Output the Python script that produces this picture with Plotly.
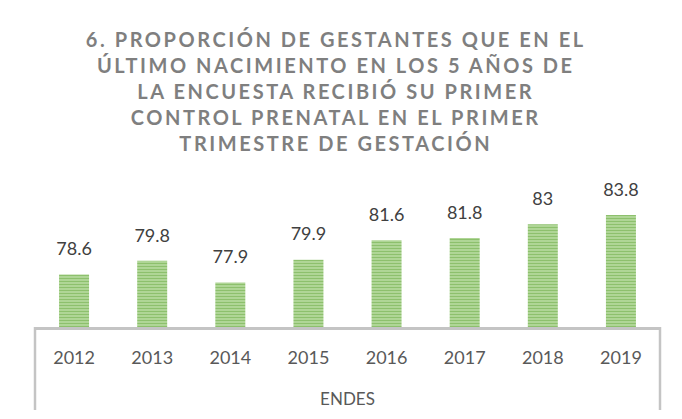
import plotly.graph_objects as go

years = ["2012", "2013", "2014", "2015", "2016", "2017", "2018", "2019"]
values = [78.6, 79.8, 77.9, 79.9, 81.6, 81.8, 83.0, 83.8]
labels = ["78.6", "79.8", "77.9", "79.9", "81.6", "81.8", "83", "83.8"]
title_lines = [
    "6. PROPORCIÓN DE GESTANTES QUE EN EL",
    "ÚLTIMO NACIMIENTO EN LOS 5 AÑOS DE",
    "LA ENCUESTA RECIBIÓ SU PRIMER",
    "CONTROL PRENATAL EN EL PRIMER",
    "TRIMESTRE DE GESTACIÓN",
]
axis_title = "ENDES"

FONT = "Lato"

fig = go.Figure()
fig.add_trace(go.Bar(
    x=years, y=values,
    marker=dict(
        color="#c3e2ad",
        line=dict(width=0),
        pattern=dict(shape="-", fgcolor="#539c2a", bgcolor="#c6e4b0",
                     size=3, solidity=0.6, fillmode="overlay"),
    ),
    hoverinfo="skip",
))
fig.add_trace(go.Scatter(
    x=years, y=values, mode="markers+text",
    text=labels, textposition="top center",
    textfont=dict(family=FONT, size=18, color="#404040"),
    marker=dict(size=22, color="rgba(0,0,0,0)"),
    hoverinfo="skip", cliponaxis=False,
))

title_text = "<br>".join(
    f'<span style="letter-spacing:2.55px">{l}</span>' for l in title_lines
)

fig.update_layout(
    width=682, height=419,
    margin=dict(l=27, r=30, t=182, b=100, autoexpand=False),
    paper_bgcolor="white", plot_bgcolor="white",
    showlegend=False,
    bargap=0.616,
    title=dict(
        text=title_text,
        font=dict(family=FONT, size=20, color="#7f7f7f", weight="bold"),
        x=0.4806, xanchor="center", xref="container",
        y=1 - 39 / 419, yanchor="top", yref="container",
    ),
    xaxis=dict(
        type="category", range=[-0.5, 7.5], automargin=False,
        showline=True, linecolor="#c4c4c4", linewidth=2.5,
        showgrid=False, zeroline=False, ticks="",
        tickfont=dict(family=FONT, size=18, color="#595959"),
        ticklabelstandoff=13,
        title=dict(text=axis_title, standoff=26,
                   font=dict(family=FONT, size=17, color="#595959")),
    ),
    yaxis=dict(range=[74, 86], visible=False, fixedrange=True, automargin=False),
    shapes=[
        dict(type="line", xref="paper", yref="paper", x0=0, x1=0, y0=0, y1=-0.606,
             line=dict(color="#c4c4c4", width=2.5)),
        dict(type="line", xref="paper", yref="paper", x0=1, x1=1, y0=0, y1=-0.606,
             line=dict(color="#c4c4c4", width=2.5)),
    ],
)

fig.write_html("out.html")
